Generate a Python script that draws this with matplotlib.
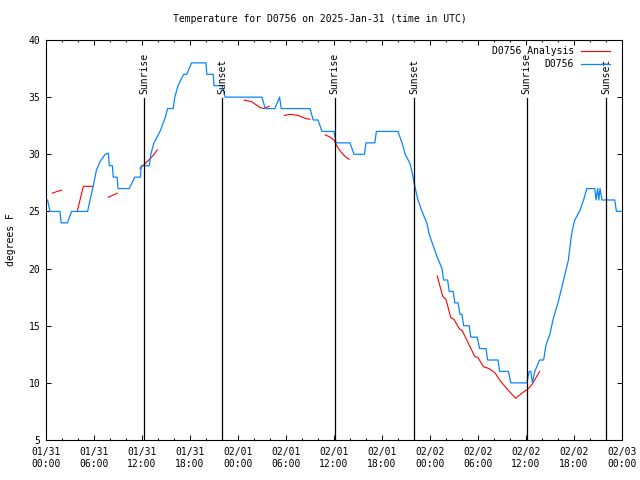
import numpy as np
import matplotlib
matplotlib.use("Agg")
import matplotlib.pyplot as plt

# hours since 2025-01-31 00:00 UTC
blue_hours = [0.0, 0.2, 0.5, 1.75, 1.9, 2.67, 3.2, 5.2, 5.5, 5.9, 6.3, 6.75, 7.4, 7.8,
              7.9, 8.3, 8.4, 8.9, 9.0, 10.4, 11.1, 11.8, 11.9, 12.9, 13.1, 13.5, 14.25,
              14.9, 15.2, 15.9, 16.1, 16.5, 17.2, 17.6, 18.2, 20.0, 20.1, 20.9, 21.0,
              22.0, 22.4, 27.0, 27.4, 28.6, 29.2, 29.4, 33.0, 33.4, 34.0, 34.5, 36.0,
              36.25, 38.0, 38.5, 39.8, 40.0, 41.1, 41.3, 44.0, 44.5, 44.9, 45.5, 45.8,
              46.1, 46.5, 47.0, 47.6, 47.9, 48.4, 48.9, 49.5, 49.7, 50.2, 50.4, 50.9,
              51.1, 51.5, 51.75, 52.0, 52.2, 52.9, 53.1, 53.9, 54.2, 55.0, 55.2, 56.5,
              56.7, 57.8, 58.1, 60.1, 60.4, 60.6, 60.8, 61.1, 61.7, 62.2, 62.5, 63.0,
              63.4, 64.0, 64.7, 65.3, 65.6, 65.8, 66.1, 66.75, 67.2, 67.6, 68.6, 68.75,
              68.96, 69.1, 69.25, 69.5, 71.1, 71.3, 72.0]
blue_temps = [26, 26, 25, 25, 24, 24, 25, 25, 26, 27.2, 28.6, 29.35, 30, 30.1,
              29, 29, 28, 28, 27, 27, 28, 28, 29, 29, 30, 31, 32,
              33.2, 34, 34, 35, 36, 37, 37, 38, 38, 37, 37, 36,
              36, 35, 35, 34, 34, 35, 34, 34, 33, 33, 32, 32,
              31, 31, 30, 30, 31, 31, 32, 32, 31, 30, 29.2, 28.3,
              27.2, 26, 25, 24, 23, 22, 21, 20, 19, 19, 18, 18,
              17, 17, 16, 16, 15, 15, 14, 14, 13, 13, 12, 12,
              11, 11, 10, 10, 11, 11, 10, 11, 12, 12, 13.3, 14.3,
              15.6, 17, 19, 20.75, 22.5, 23.4, 24.25, 25.1, 26, 27, 27, 26,
              27, 26, 27, 26, 26, 25, 25]

# analysis segments, NaN separates gaps
red_hours = [0.8, 1.4, 1.96, np.nan,
             3.9, 4.67, 5.9, np.nan,
             7.8, 8.9, np.nan,
             11.75, 12.4, 13.0, 13.4, 13.9, np.nan,
             24.75, 25.7, 26.75, 27.2, 27.9, np.nan,
             29.8, 30.5, 31.5, 32.4, 33.0, np.nan,
             34.9, 35.5, 36.0, 36.3, 36.75, 37.4, 37.9, np.nan,
             48.9, 49.6, 50.0, 50.6, 51.0, 51.7, 52.0, 52.8, 53.6, 54.0, 54.7, 55.3,
             56.1, 56.75, 57.6, 58.7, 59.5, 60.3, 60.8, 61.7]
red_temps = [26.6, 26.75, 26.85, np.nan,
             25.0, 27.2, 27.2, np.nan,
             26.24, 26.6, np.nan,
             28.77, 29.2, 29.6, 29.9, 30.38, np.nan,
             34.75, 34.6, 34.1, 34.0, 34.2, np.nan,
             33.4, 33.5, 33.4, 33.15, 33.06, np.nan,
             31.7, 31.5, 31.25, 30.8, 30.3, 29.8, 29.56, np.nan,
             19.35, 17.55, 17.3, 15.7, 15.55, 14.7, 14.6, 13.46, 12.3, 12.2, 11.4, 11.27,
             10.9, 10.2, 9.5, 8.65, 9.1, 9.5, 9.9, 11.0]

sunrise_hours = [12.25, 36.1, 60.1]
sunset_hours = [22.0, 46.0, 70.0]

tick_hours = list(range(0, 73, 6))
tick_labels = ["01/31\n00:00", "01/31\n06:00", "01/31\n12:00", "01/31\n18:00",
               "02/01\n00:00", "02/01\n06:00", "02/01\n12:00", "02/01\n18:00",
               "02/02\n00:00", "02/02\n06:00", "02/02\n12:00", "02/02\n18:00",
               "02/03\n00:00"]

FS = 7
plt.rcParams['font.family'] = ['DejaVu Sans Mono']
plt.rcParams['font.size'] = FS

fig = plt.figure(figsize=(6.4, 4.8), dpi=100)
ax = fig.add_axes([46/640, 40/480, 576/640, 400/480])

ax.plot(red_hours, red_temps, color='#ff0000', lw=0.8, label='D0756 Analysis')
ax.plot(blue_hours, blue_temps, color='#0a84ff', lw=0.9, label='D0756')

for h in sunrise_hours:
    ax.plot([h, h], [5, 34.9], color='black', lw=0.9)
    ax.text(h, 35.3, 'Sunrise', rotation=90, ha='center', va='bottom', fontsize=FS)
for h in sunset_hours:
    ax.plot([h, h], [5, 34.9], color='black', lw=0.9)
    ax.text(h, 35.3, 'Sunset', rotation=90, ha='center', va='bottom', fontsize=FS)

ax.set_xlim(0, 72)
ax.set_ylim(5, 40)
ax.set_xticks(tick_hours)
ax.set_xticklabels(tick_labels)
ax.set_xticks(range(0, 73, 2), minor=True)
ax.set_yticks(range(5, 41, 5))

ax.tick_params(which='both', direction='in', top=True, right=True, colors='black')
ax.tick_params(which='major', length=3.3, width=0.7)
ax.tick_params(which='minor', length=1.7, width=0.7)
ax.tick_params(axis='x', which='major', pad=5)
ax.tick_params(axis='y', which='major', pad=4)
for s in ax.spines.values():
    s.set_linewidth(0.8)

fig.text(0.5, 1 - 19/480, 'Temperature for D0756 on 2025-Jan-31 (time in UTC)',
         ha='center', va='center', fontsize=FS)
ax.set_ylabel('degrees F', fontsize=FS, labelpad=9)

ax.legend(loc='upper right', bbox_to_anchor=(0.979, 0.985), frameon=False,
          markerfirst=False, handlelength=3.0, handletextpad=0.7,
          labelspacing=0.35, borderaxespad=0, borderpad=0, fontsize=FS)

fig.savefig('out.png', dpi=100)
